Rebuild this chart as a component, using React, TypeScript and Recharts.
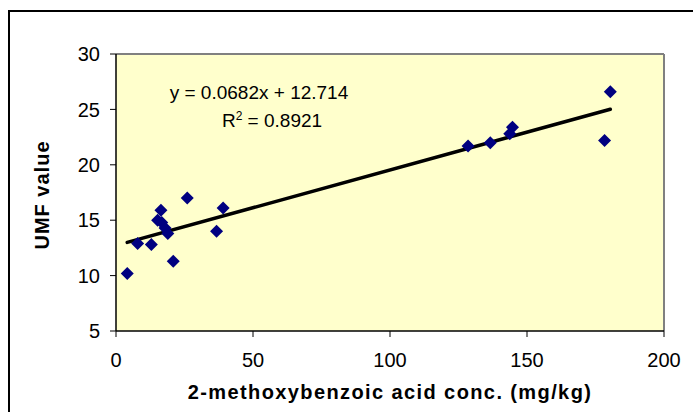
import React from "react";
import {
  ScatterChart,
  Scatter,
  XAxis,
  YAxis,
  ReferenceArea,
  ReferenceLine,
} from "recharts";

// ---- data ----
const concX: number[] = [4.1, 7.9, 12.9, 15.2, 16.4, 16.7, 17.9, 18.9, 20.9, 26.0, 36.7, 39.1, 128.5, 136.6, 143.7, 144.7, 178.3, 180.4];
const umfY: number[] = [10.2, 12.9, 12.8, 15.0, 15.9, 14.8, 14.3, 13.8, 11.3, 17.0, 14.0, 16.1, 21.7, 22.0, 22.8, 23.4, 22.2, 26.6];
const xTicks: number[] = [0, 50, 100, 150, 200];
const yTicks: number[] = [5, 10, 15, 20, 25, 30];
const trendSlope = 0.0682;
const trendIntercept = 12.714;
const equationText = "y = 0.0682x + 12.714";
const r2Value = "0.8921";
const xTitle = "2-methoxybenzoic acid conc. (mg/kg)";
const yTitle = "UMF value";

const points = concX.map((x, i) => ({ x, y: umfY[i] }));
const xMin = Math.min(...concX);
const xMax = Math.max(...concX);
const trendSeg = [
  { x: xMin, y: trendSlope * xMin + trendIntercept },
  { x: xMax, y: trendSlope * xMax + trendIntercept },
];

const FONT = "'Liberation Sans', Arial, sans-serif";

const Diamond = (props: any) => {
  const { cx, cy } = props;
  const r = 6.5;
  return (
    <polygon
      points={`${cx},${cy - r} ${cx + r},${cy} ${cx},${cy + r} ${cx - r},${cy}`}
      fill="#000080"
    />
  );
};

export default function App() {
  return (
    <div style={{ position: "absolute", left: 0, top: 0, width: 693, height: 412, overflow: "hidden", background: "#fff" }}>
      <div
        style={{
          position: "absolute",
          left: 8,
          top: 10,
          width: 720,
          height: 440,
          border: "2px solid #000",
          boxSizing: "border-box",
        }}
      />
      <div style={{ position: "absolute", left: 0, top: 0 }}>
        <ScatterChart
          width={693}
          height={412}
          margin={{ top: 54, right: 29, bottom: 0, left: 0 }}
        >
          <ReferenceArea x1={0} x2={200} y1={5} y2={30} fill="#FFFFCC" fillOpacity={1} stroke="none" />
          <ReferenceLine y={30} stroke="#808080" strokeWidth={2} />
          <ReferenceLine x={200} stroke="#808080" strokeWidth={2} />
          <XAxis
            type="number"
            dataKey="x"
            domain={[0, 200]}
            ticks={xTicks}
            height={81}
            tickSize={6}
            tickMargin={16}
            axisLine={{ stroke: "#000", strokeWidth: 1.5 }}
            tickLine={{ stroke: "#000" }}
            tick={{ fill: "#000", fontSize: 20, fontFamily: FONT }}
            interval={0}
          />
          <YAxis
            type="number"
            dataKey="y"
            domain={[5, 30]}
            ticks={yTicks}
            width={116}
            tickSize={6}
            tickMargin={10}
            axisLine={{ stroke: "#000", strokeWidth: 1.5 }}
            tickLine={{ stroke: "#000" }}
            tick={{ fill: "#000", fontSize: 20, fontFamily: FONT }}
            interval={0}
          />
          <Scatter data={points} shape={<Diamond />} isAnimationActive={false} />
          <ReferenceLine
            segment={trendSeg}
            stroke="#000"
            strokeWidth={3.5}
            strokeLinecap="round"
          />
        </ScatterChart>
      </div>
      <svg
        width={693}
        height={412}
        style={{ position: "absolute", left: 0, top: 0, pointerEvents: "none" }}
      >
        <text x={259} y={99} textAnchor="middle" fontFamily={FONT} fontSize={19} fill="#000">
          {equationText}
        </text>
        <text x={272} y={127} textAnchor="middle" fontFamily={FONT} fontSize={19} fill="#000">
          R<tspan fontSize={12} dy={-7}>2</tspan>
          <tspan dy={7}>{" = " + r2Value}</tspan>
        </text>
        <text
          x={390}
          y={399}
          textAnchor="middle"
          fontFamily={FONT}
          fontSize={20}
          fontWeight="bold"
          letterSpacing={1.4}
          fill="#000"
        >
          {xTitle}
        </text>
        <text
          x={49}
          y={195}
          textAnchor="middle"
          fontFamily={FONT}
          fontSize={20}
          fontWeight="bold"
          letterSpacing={1}
          fill="#000"
          transform="rotate(-90 49 195)"
        >
          {yTitle}
        </text>
      </svg>
    </div>
  );
}
